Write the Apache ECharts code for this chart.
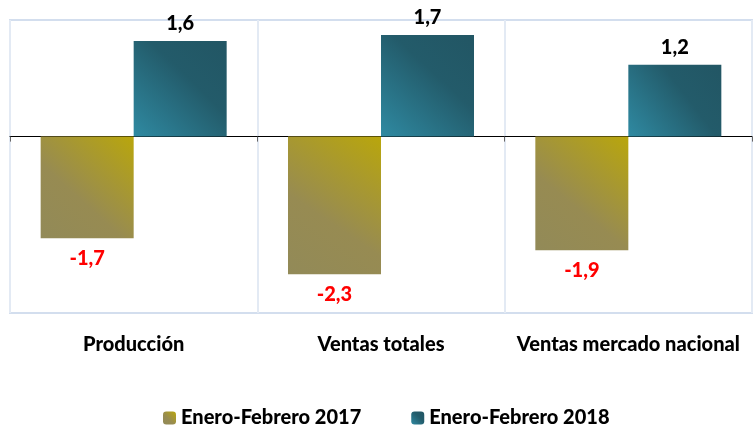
<!DOCTYPE html>
<html>
<head>
    <meta charset="utf-8" />
    <title>ECharts</title>
    <script src="https://cdn.jsdelivr.net/npm/echarts@6/dist/echarts.min.js"></script>
    <style type="text/css">
        body { margin: 0; padding: 0; background-color: #fff; }
        #main { width: 753px; height: 425px; }
    </style>
</head>
<body>
    <div id="main"></div>
    <script type="text/javascript">
        // datos
        var categories = ['Producción', 'Ventas totales', 'Ventas mercado nacional'];
        var serie2017 = [-1.7, -2.3, -1.9];
        var serie2018 = [1.6, 1.7, 1.2];
        var seriesNames = ['Enero-Febrero 2017', 'Enero-Febrero 2018'];

        var fontName = 'Lato';
        function fmt(v) { return String(v).replace('.', ','); }

        var oliveGrad = new echarts.graphic.LinearGradient(1, 0, 0, 1, [
            { offset: 0, color: '#b9a60c' },
            { offset: 0.6, color: '#978b52' },
            { offset: 1, color: '#928a58' }
        ]);
        var tealGrad = new echarts.graphic.LinearGradient(1, 0, 0, 1, [
            { offset: 0, color: '#225664' },
            { offset: 0.4, color: '#235b6a' },
            { offset: 1, color: '#2f8aa2' }
        ]);

        var myChart = echarts.init(document.getElementById('main'));
        myChart.setOption({
            animation: false,
            grid: { left: 10, right: 1, top: 20, bottom: 112, show: true, borderColor: '#d3deee', borderWidth: 2 },
            legend: {
                left: 158, top: 403, itemWidth: 13, itemHeight: 13, itemGap: 50,
                textStyle: { fontFamily: fontName, fontWeight: 900, fontSize: 20, color: '#000' },
                data: seriesNames
            },
            xAxis: [{
                type: 'category', data: categories,
                axisLine: { onZero: true, lineStyle: { color: '#000', width: 1 } },
                axisTick: { show: true, inside: false, length: 5, lineStyle: { color: '#666' } },
                axisLabel: { show: false },
                splitLine: { show: true, lineStyle: { color: '#e3eaf4', width: 2 } }
            }, {
                type: 'category', data: categories, position: 'bottom',
                axisLine: { show: false }, axisTick: { show: false },
                axisLabel: { interval: 0, hideOverlap: false, margin: 22, fontFamily: fontName, fontWeight: 900, fontSize: 20, color: '#000' }
            }],
            yAxis: {
                type: 'value', min: -2.95, max: 1.95, show: false,
                splitLine: { show: false }
            },
            series: [{
                name: seriesNames[0], type: 'bar', data: serie2017,
                barWidth: 93, barGap: '0%',
                itemStyle: { color: oliveGrad },
                label: {
                    show: true, position: 'bottom', distance: 10, formatter: function (p) { return fmt(p.value); },
                    fontFamily: fontName, fontWeight: 900, fontSize: 20, color: '#ff0000'
                }
            }, {
                name: seriesNames[1], type: 'bar', data: serie2018,
                barWidth: 93,
                itemStyle: { color: tealGrad },
                label: {
                    show: true, position: 'top', distance: 7, formatter: function (p) { return fmt(p.value); },
                    fontFamily: fontName, fontWeight: 900, fontSize: 20, color: '#000'
                }
            }]
        });
    </script>
</body>
</html>
